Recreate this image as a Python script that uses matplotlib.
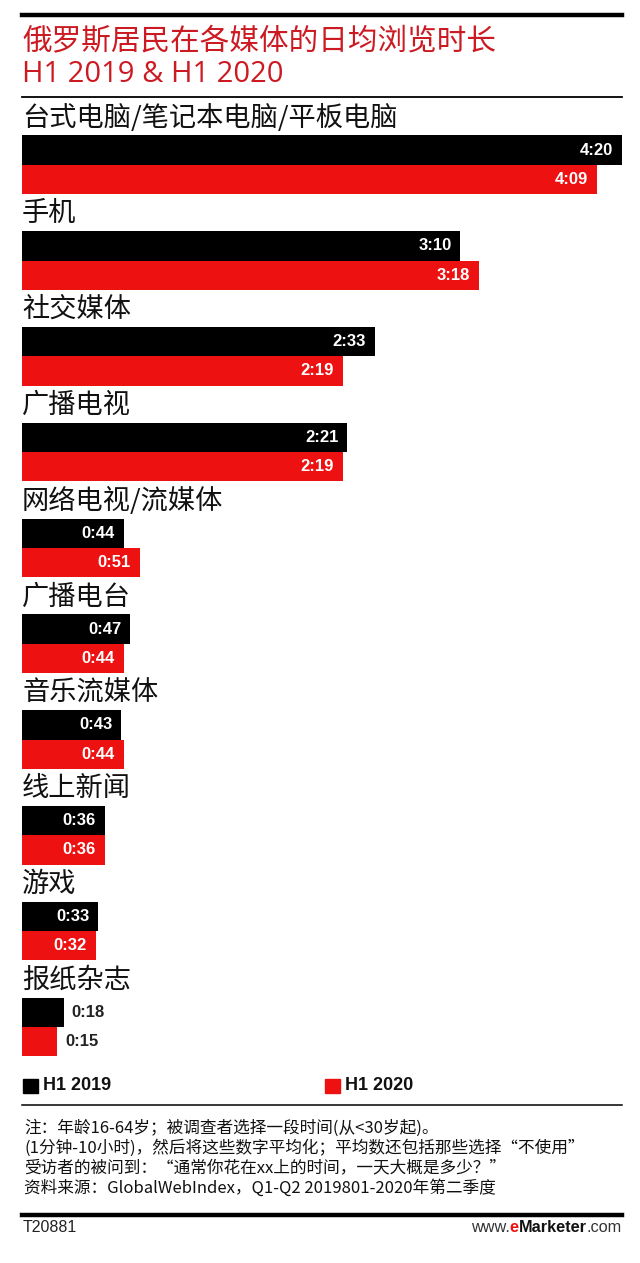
import matplotlib
matplotlib.use("Agg")
import matplotlib.pyplot as plt
from matplotlib.patches import Rectangle
from matplotlib.lines import Line2D
from matplotlib.offsetbox import TextArea, HPacker, AnnotationBbox

plt.rcParams['font.family'] = ['Noto Sans CJK SC', 'DejaVu Sans']

# Data
categories = ['台式电脑/笔记本电脑/平板电脑', '手机', '社交媒体', '广播电视', '网络电视/流媒体',
              '广播电台', '音乐流媒体', '线上新闻', '游戏', '报纸杂志']
h1_2019 = ['4:20', '3:10', '2:33', '2:21', '0:44', '0:47', '0:43', '0:36', '0:33', '0:18']
h1_2020 = ['4:09', '3:18', '2:19', '2:19', '0:51', '0:44', '0:44', '0:36', '0:32', '0:15']
series_names = ['H1 2019', 'H1 2020']
title_lines = ['俄罗斯居民在各媒体的日均浏览时长', 'H1 2019 & H1 2020']
notes = ['注：年龄16-64岁；被调查者选择一段时间(从<30岁起)。',
         '(1分钟-10小时)，然后将这些数字平均化；平均数还包括那些选择“不使用”',
         '受访者的被问到：“通常你花在xx上的时间，一天大概是多少？”',
         '资料来源：GlobalWebIndex，Q1-Q2 2019801-2020年第二季度']
chart_id = 'T20881'

RED = '#ee1111'
TITLE_RED = '#cc1a22'
W, H = 640, 1263


def to_min(s):
    h, m = s.split(':')
    return int(h) * 60 + int(m)


def fx(x):
    return x / W


def fy(y):
    return 1 - y / H


fig = plt.figure(figsize=(W / 100, H / 100), dpi=100)

# horizontal rules
def hline(y, lw):
    fig.add_artist(Line2D([fx(22), fx(622)], [fy(y), fy(y)], color='black', lw=lw,
                          transform=fig.transFigure))

hline(15, 3.2)
hline(97, 1.3)
hline(1105, 1.1)
hline(1215, 3.2)

# title
fig.text(fx(22), fy(41), title_lines[0], color=TITLE_RED, fontsize=21.3, va='center', ha='left')
fig.text(fx(22), fy(75), title_lines[1], color=TITLE_RED, fontsize=21, va='center', ha='left',
         family=['Open Sans', 'Noto Sans CJK SC'])

# bar chart area
group_px = 95.8
top_px, bot_px = 100, 1060
ax = fig.add_axes([fx(22), fy(bot_px), 600 / W, (bot_px - top_px) / H])
ax.set_xlim(0, 260)
ax.set_ylim((bot_px - 118) / group_px, (top_px - 118) / group_px)
ax.axis('off')

v19 = [to_min(s) for s in h1_2019]
v20 = [to_min(s) for s in h1_2020]
for i, cat in enumerate(categories):
    ax.text(0, i, cat, fontsize=19.6, va='center', ha='left', color='#111111')
    for off, vals, labels, col in [(0.335, v19, h1_2019, 'black'), (0.64, v20, h1_2020, RED)]:
        v = vals[i]
        ax.barh(i + off, v, height=0.305, color=col, left=0)
        if v >= 30:
            ax.annotate(labels[i], (v, i + off), xytext=(-6.5, 0), textcoords='offset points',
                        ha='right', va='center', color='white', fontsize=12,
                        fontweight='bold', family='Liberation Sans')
        else:
            ax.annotate(labels[i], (v, i + off), xytext=(6, 0), textcoords='offset points',
                        ha='left', va='center', color='#222222', fontsize=12,
                        fontweight='bold', family='Liberation Sans')

# legend
for x0, col, name in [(23, 'black', series_names[0]), (325, RED, series_names[1])]:
    fig.add_artist(Rectangle((fx(x0), fy(1093)), 15 / W, 14 / H, color=col,
                             transform=fig.transFigure))
    fig.text(fx(x0 + 20), fy(1086), name, fontsize=13, fontweight='bold', va='center',
             ha='left', family='Liberation Sans', color='#111111')

# notes
for k, line in enumerate(notes):
    fig.text(fx(24), fy(1128 + 20 * k), line, fontsize=12, va='center', ha='left',
             color='#111111')

# footer
fig.text(fx(23), fy(1228), chart_id, fontsize=11.5, va='center', ha='left', color='#222222',
         family='Liberation Sans')
parts = [TextArea('www.', textprops=dict(fontsize=11.7, color='#333333', family='Liberation Sans')),
         TextArea('e', textprops=dict(fontsize=11.7, color=RED, fontweight='bold', family='Liberation Sans')),
         TextArea('Marketer', textprops=dict(fontsize=11.7, color='#111111', fontweight='bold', family='Liberation Sans')),
         TextArea('.com', textprops=dict(fontsize=11.7, color='#333333', family='Liberation Sans'))]
pack = HPacker(children=parts, align='baseline', pad=0, sep=0)
ab = AnnotationBbox(pack, (fx(622), fy(1228)), xycoords='figure fraction', box_alignment=(1, 0.5),
                    frameon=False, pad=0)
fig.add_artist(ab)

fig.savefig('out.png', dpi=100, facecolor='white')
